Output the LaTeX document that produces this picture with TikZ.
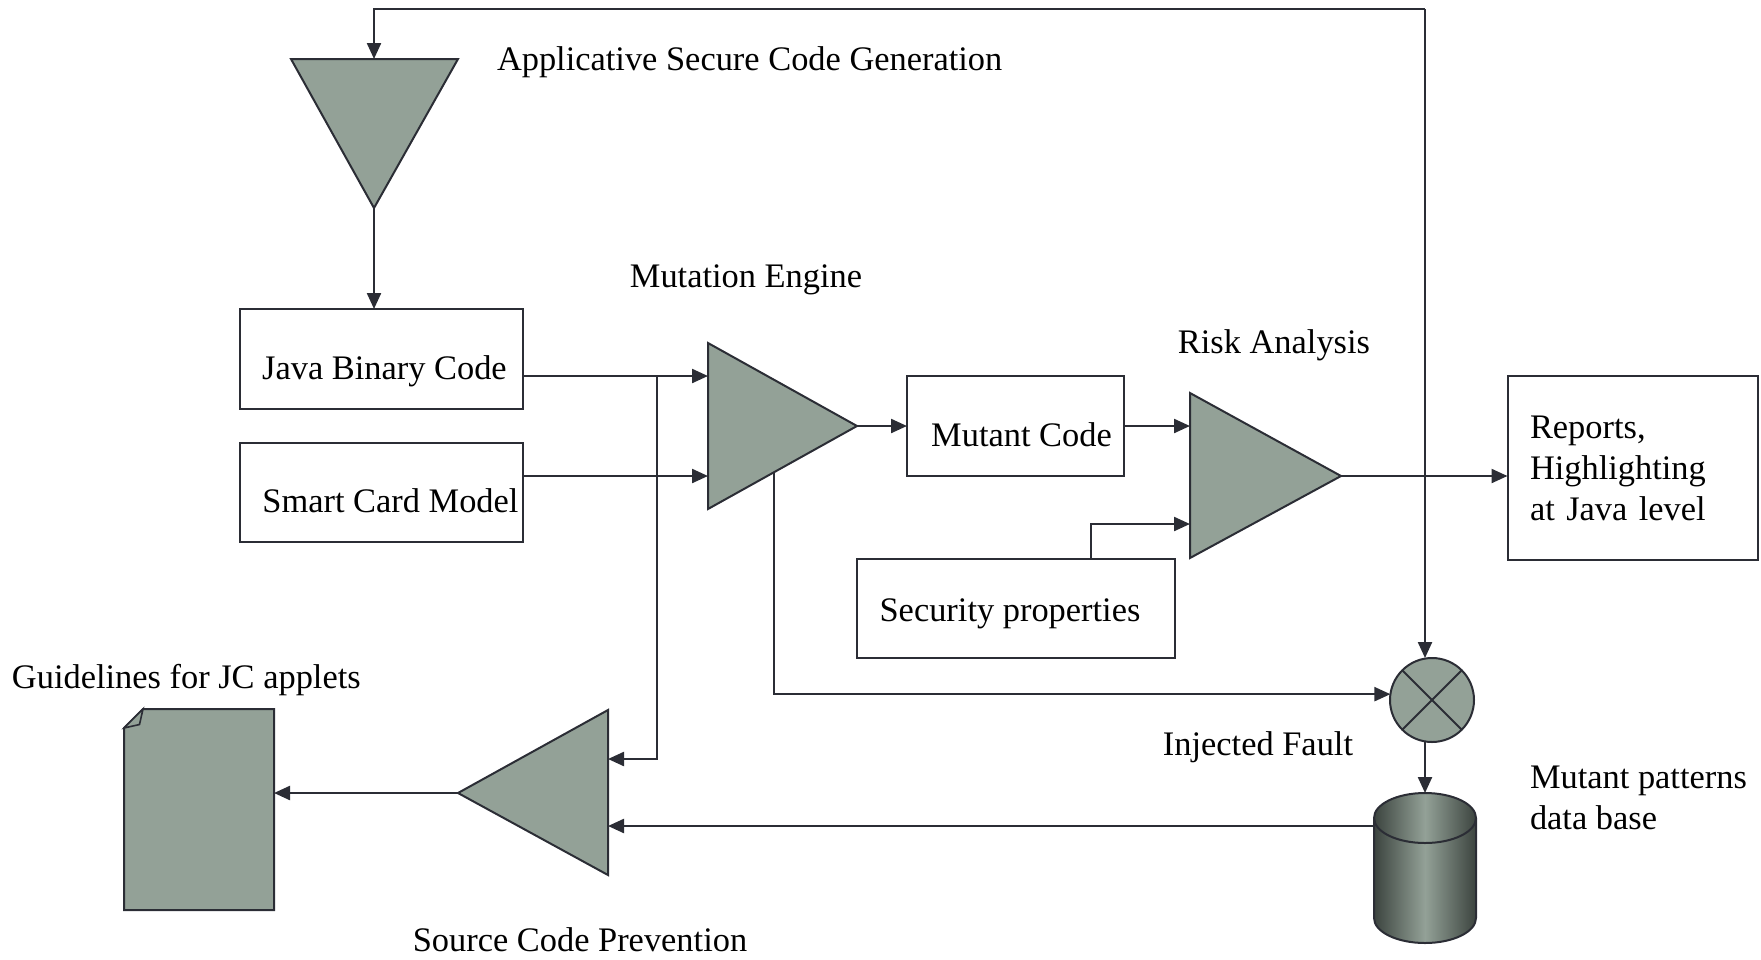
\documentclass[tikz,border=0pt]{standalone}
\usepackage{fontspec}
\setmainfont{Liberation Serif}
\usetikzlibrary{arrows.meta,calc,positioning}
\definecolor{shapefill}{RGB}{147,161,151}
\definecolor{linecol}{RGB}{43,45,53}
\definecolor{dbdark}{RGB}{60,68,63}
\tikzset{
  line/.style = {draw=linecol, line width=2.3pt},
  arrow/.style = {-{Triangle[length=16pt,width=14pt]}, line},
  block/.style = {rectangle, draw=linecol, line width=2pt, inner sep=0, outer sep=0,
                  text height=40pt, text depth=0pt},
  amp/.style = {fill=shapefill, draw=linecol, line width=2pt},
  txt/.style = {inner sep=0, outer sep=0}
}

\begin{document}
\begin{tikzpicture}[x=1pt, y=-1pt, font=\fontsize{34.4}{41}\selectfont]
  \useasboundingbox (0,0) rectangle (1761,959);

  % boxes
  \node[block, minimum width=283pt, minimum height=100pt] (java) at (381.5,359) {\hspace*{6pt}Java Binary Code};
  \node[block, minimum width=283pt, minimum height=99pt] (card) at (381.5,492.5) {\hspace*{18pt}Smart Card Model};
  \node[block, minimum width=217pt, minimum height=100pt] (mutant) at (1015.5,426) {\hspace*{12pt}Mutant Code};
  \node[block, minimum width=318pt, minimum height=99pt, text height=25pt] (secprop) at (1016,608.5) {Security properties\hspace*{12pt}};
  \node[block, minimum width=250pt, minimum height=184pt, text width=205pt, text height=, text depth=, align=left] (reports) at (1632.5,468) {Reports,\\Highlighting\\at Java level};

  % code generation triangle
  \coordinate (gen-l) at (291,59);
  \coordinate (gen-r) at (458,59);
  \coordinate (gen-apex) at (374,208);
  \coordinate (gen-in) at (374,59);
  \draw[amp] (gen-l) -- (gen-r) -- (gen-apex) -- cycle;

  % mutation engine
  \coordinate (me-top) at (708,343);
  \coordinate (me-bot) at (708,509);
  \coordinate (me-apex) at (857,426);
  \coordinate (me-in1) at (708,376);
  \coordinate (me-in2) at (708,476);
  \draw[amp] (me-top) -- (me-apex) -- (me-bot) -- cycle;

  % risk analysis
  \coordinate (risk-top) at (1190,393);
  \coordinate (risk-bot) at (1190,558);
  \coordinate (risk-apex) at (1341,476);
  \coordinate (risk-in2) at (1190,524);
  \draw[amp] (risk-top) -- (risk-apex) -- (risk-bot) -- cycle;

  % source code prevention
  \coordinate (prev-top) at (608,710);
  \coordinate (prev-bot) at (608,875);
  \coordinate (prev-apex) at (458,793);
  \coordinate (prev-in1) at (608,759);
  \coordinate (prev-in2) at (608,826);
  \draw[amp] (prev-top) -- (prev-apex) -- (prev-bot) -- cycle;

  % injected fault
  \node[circle, amp, minimum size=84pt, inner sep=0, outer sep=0] (fault) at (1432,700) {};
  \draw[line, line width=2pt] (fault.north east) -- (fault.south west);
  \draw[line, line width=2pt] (fault.north west) -- (fault.south east);

  % data base
  \shade[left color=dbdark, right color=dbdark, middle color=shapefill]
    (1374,818) -- (1374,918) arc[start angle=180, end angle=0, x radius=51, y radius=25]
    -- (1476,818) arc[start angle=0, end angle=-180, x radius=51, y radius=25] -- cycle;
  \draw[line, line width=2pt]
    (1374,818) -- (1374,918) arc[start angle=180, end angle=0, x radius=51, y radius=25]
    -- (1476,818) arc[start angle=0, end angle=-180, x radius=51, y radius=25] -- cycle;
  \draw[line, line width=2pt] (1374,818) arc[start angle=180, end angle=0, x radius=51, y radius=25];
  \coordinate (db) at (1425,793);
  \coordinate (db-w) at (1374,826);

  % guidelines document
  \draw[amp] (124,728) -- (143,709) -- (274,709) -- (274,910) -- (124,910) -- cycle;
  \draw[amp, line width=1.6pt] (124,728) -- (143,709) -- (139.5,724.5) -- cycle;
  \coordinate (doc) at (274,793);

  % connectors
  \coordinate (loop) at (1425,9);
  \coordinate (split) at (657,376);
  \coordinate (me-tap) at ($(me-bot)!0.443!(me-apex)$);
  \draw[arrow] (loop) -| (gen-in);
  \draw[arrow] (loop) -- (loop |- fault.north);
  \draw[arrow] (gen-apex) -- (gen-apex |- java.north);
  \draw[arrow] (java.east |- me-in1) -- (me-in1);
  \draw[arrow] (card.east |- me-in2) -- (me-in2);
  \draw[arrow] (split) |- (prev-in1);
  \draw[arrow] (me-apex) -- (mutant.west);
  \draw[arrow] (mutant.east) -- (mutant.east -| risk-top);
  \draw[arrow] ([xshift=75pt]secprop.north) |- (risk-in2);
  \draw[arrow] (risk-apex) -- (risk-apex -| reports.west);
  \draw[arrow] (me-tap) |- (fault.172);
  \draw[arrow] (fault.south -| db) -- (db);
  \draw[arrow] (db-w) -- (prev-in2);
  \draw[arrow] (prev-apex) -- (doc);

  % labels
  \node[txt, anchor=west] (gen-lbl) at (497,62) {Applicative Secure Code Generation};
  \node[txt] (me-lbl) at (746,280) {Mutation Engine};
  \node[txt] (risk-lbl) at (1274,345) {Risk Analysis};
  \node[txt, anchor=west] (guide-lbl) at (12,680) {Guidelines for JC applets};
  \node[txt] (fault-lbl) at (1258,747) {Injected Fault};
  \node[txt, anchor=west, align=left] (db-lbl) at (1530,798) {Mutant patterns\\data base};
  \node[txt] (prev-lbl) at (580,940) {Source Code Prevention};
\end{tikzpicture}
\end{document}
